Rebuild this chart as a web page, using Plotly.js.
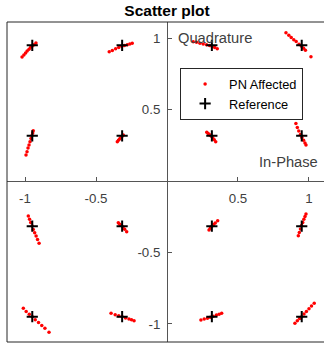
<!DOCTYPE html>
<html>
<head>
<meta charset="utf-8">
<script src="https://cdn.plot.ly/plotly-3.0.1.min.js"></script>
<style>
html,body{margin:0;padding:0;overflow:hidden;background:#fff;}
#chart{width:330px;height:343px;}
</style>
</head>
<body>
<div id="chart"></div>
<script>
// Reference constellation (16-QAM)
var refI = [-0.949,-0.316,0.316,0.949,-0.949,-0.316,0.316,0.949,-0.949,-0.316,0.316,0.949,-0.949,-0.316,0.316,0.949];
var refQ = [0.949,0.949,0.949,0.949,0.316,0.316,0.316,0.316,-0.316,-0.316,-0.316,-0.316,-0.949,-0.949,-0.949,-0.949];

// Phase-noise affected samples
var pnI = [
 -1.021,-1.008,-0.996,-0.985,-0.972,-0.960,-0.949,-0.937,-0.923,
 -0.407,-0.385,-0.362,-0.340,-0.318,-0.300,-0.280,-0.262,-0.245,
  0.185,0.208,0.232,0.255,0.278,0.300,0.318,0.336,0.354,
  0.838,0.858,0.875,0.893,0.910,0.930,0.948,0.962,0.975,1.014,
 -0.993,-0.986,-0.979,-0.972,-0.965,-0.958,-0.951,-0.946,-0.942,
 -0.350,-0.342,-0.333,-0.325,-0.316,-0.308,
  0.280,0.290,0.300,0.312,0.322,0.333,0.343,
  0.889,0.908,0.918,0.928,0.940,0.950,0.962,0.972,0.979,
 -0.977,-0.968,-0.960,-0.950,-0.942,-0.932,-0.922,-0.912,-0.901,
 -0.343,-0.333,-0.322,-0.310,-0.298,-0.284,
  0.296,0.305,0.316,0.328,0.340,0.357,
  0.925,0.932,0.940,0.948,0.956,0.964,0.972,0.979,
 -1.012,-0.992,-0.970,-0.949,-0.928,-0.905,-0.882,-0.860,-0.831,
 -0.394,-0.365,-0.340,-0.316,-0.292,-0.268,-0.250,-0.232,
  0.239,0.262,0.285,0.305,0.325,0.348,0.367,0.385,
  0.901,0.918,0.934,0.949,0.965,0.982,1.000,1.018,1.037
];
var pnQ = [
  0.867,0.882,0.896,0.910,0.922,0.935,0.945,0.953,0.965,
  0.904,0.913,0.925,0.933,0.943,0.947,0.953,0.958,0.963,
  0.974,0.970,0.964,0.958,0.953,0.947,0.941,0.933,0.925,
  1.037,1.020,1.004,0.988,0.975,0.957,0.942,0.928,0.915,0.869,
  0.182,0.205,0.230,0.252,0.275,0.298,0.318,0.336,0.352,
  0.275,0.285,0.295,0.305,0.313,0.322,
  0.341,0.333,0.324,0.313,0.302,0.288,0.275,
  0.450,0.403,0.375,0.350,0.325,0.305,0.285,0.265,0.252,
 -0.245,-0.268,-0.290,-0.315,-0.340,-0.362,-0.385,-0.410,-0.436,
 -0.292,-0.303,-0.312,-0.322,-0.338,-0.355,
 -0.343,-0.330,-0.316,-0.305,-0.293,-0.278,
 -0.383,-0.360,-0.336,-0.312,-0.290,-0.268,-0.248,-0.231,
 -0.890,-0.912,-0.932,-0.949,-0.970,-0.990,-1.010,-1.030,-1.058,
 -0.925,-0.935,-0.942,-0.949,-0.958,-0.966,-0.971,-0.977,
 -0.972,-0.966,-0.960,-0.953,-0.946,-0.938,-0.932,-0.925,
 -0.995,-0.978,-0.962,-0.949,-0.930,-0.912,-0.893,-0.874,-0.855
];

var xTicks = [-1,-0.5,0.5,1];
var xTickText = ['-1','-0.5','0.5','1'];
var yTicks = [-1,-0.5,0.5,1];
var yTickText = ['-1','-0.5','0.5','1'];

var xRange = [-1.127,1.127];
var yRange = [-1.126,1.112];

var FONT = 'Liberation Sans, Arial, Helvetica, sans-serif';

var traces = [
  {x: pnI, y: pnQ, type:'scatter', mode:'markers', name:'PN Affected',
   marker:{color:'#ff0000', size:3.5, line:{width:0}}},
  {x: refI, y: refQ, type:'scatter', mode:'markers', name:'Reference',
   marker:{symbol:'cross-thin-open', color:'#000000', size:8, line:{color:'#000000', width:2}}}
];

var xPos = (0 - yRange[0])/(yRange[1]-yRange[0]);
var yPos = (0 - xRange[0])/(xRange[1]-xRange[0]);

var layout = {
  width:330, height:343,
  margin:{l:7, r:3, t:22, b:1},
  paper_bgcolor:'#ffffff', plot_bgcolor:'#ffffff',
  font:{family:FONT, size:13.3, color:'#262626'},
  title:{text:'<b>Scatter plot</b>', x:0.5, xref:'paper', xanchor:'center', y:0.97, yref:'container', yanchor:'middle',
         font:{family:FONT, size:15.5, color:'#000000'}},
  showlegend:true,
  legend:{x:0.541, y:0.856, xanchor:'left', yanchor:'top', bgcolor:'#ffffff',
          bordercolor:'#262626', borderwidth:1, font:{family:FONT, size:12.8, color:'#000000'},
          tracegroupgap:0, itemwidth:38},
  xaxis:{range:xRange, anchor:'free', position:xPos, showline:true, linecolor:'#555555', linewidth:1,
         showgrid:false, zeroline:false, ticks:'inside', ticklen:4, tickcolor:'#555555',
         tickvals:xTicks, ticktext:xTickText, tickfont:{family:FONT, size:13.3, color:'#404040'},
         ticklabelstandoff:5},
  yaxis:{range:yRange, anchor:'free', position:yPos, showline:true, linecolor:'#555555', linewidth:1,
         showgrid:false, zeroline:false, ticks:'inside', ticklen:4, tickcolor:'#555555',
         tickvals:yTicks, ticktext:yTickText, tickfont:{family:FONT, size:13.3, color:'#404040'},
         ticklabelstandoff:4},
  shapes:[{type:'rect', xref:'paper', yref:'paper', x0:0, x1:1, y0:0, y1:1,
           line:{color:'#262626', width:1}, fillcolor:'rgba(0,0,0,0)', layer:'above'}],
  annotations:[
    {text:'Quadrature', xref:'x', yref:'y', x:0.063, y:1.0, xanchor:'left', yanchor:'middle',
     showarrow:false, font:{family:FONT, size:14.7, color:'#404040'}},
    {text:'In-Phase', xref:'x', yref:'y', x:1.08, y:0.133, xanchor:'right', yanchor:'middle',
     showarrow:false, font:{family:FONT, size:14.7, color:'#404040'}}
  ]
};

Plotly.newPlot('chart', traces, layout, {displayModeBar:false, staticPlot:true});
</script>
</body>
</html>
